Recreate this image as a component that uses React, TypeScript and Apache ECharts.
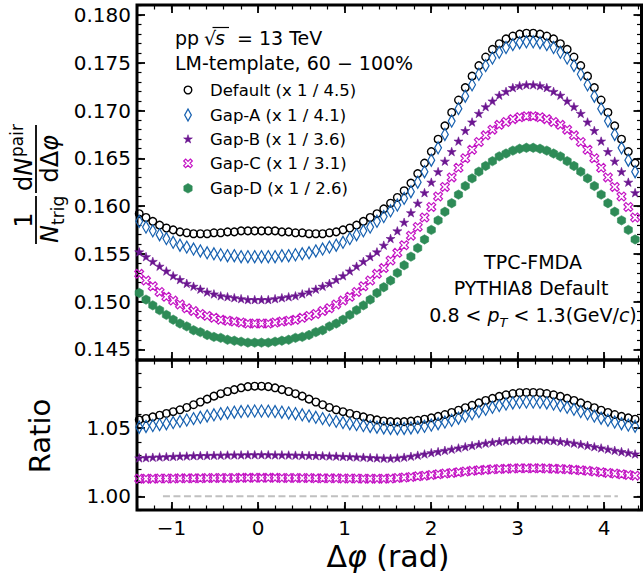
import React, { useEffect, useRef } from 'react';
import * as echarts from 'echarts';

// ---------- data ----------
// 80 bins over [-pi/2, 3pi/2); bin centres
const phiBins: number[] = Array.from({ length: 80 }, (_, i) => ((i - 19.5) * Math.PI) / 40);

const seriesNames = [
  'Default (x 1 / 4.5)',
  'Gap-A (x 1 / 4.1)',
  'Gap-B (x 1 / 3.6)',
  'Gap-C (x 1 / 3.1)',
  'Gap-D (x 1 / 2.6)',
];

const defaultVals = [
  0.1603,0.1597,0.1592,0.1588,0.1584,0.1580,0.1577,0.1575,0.1573,0.1572,0.1571,0.1571,0.1571,0.1572,0.1572,0.1573,0.1573,0.1574,0.1574,0.1574,
  0.1574,0.1574,0.1574,0.1573,0.1573,0.1572,0.1572,0.1571,0.1571,0.1571,0.1572,0.1573,0.1575,0.1577,0.1580,0.1584,0.1588,0.1592,0.1597,0.1603,
  0.1609,0.1616,0.1624,0.1634,0.1645,0.1657,0.1670,0.1684,0.1698,0.1711,0.1724,0.1736,0.1747,0.1756,0.1764,0.1770,0.1775,0.1778,0.1780,0.1781,
  0.1781,0.1780,0.1778,0.1775,0.1770,0.1764,0.1756,0.1747,0.1736,0.1724,0.1711,0.1698,0.1684,0.1670,0.1657,0.1645,0.1634,0.1624,0.1616,0.1609,
];
const gapAVals = [
  0.1595,0.1589,0.1584,0.1578,0.1574,0.1570,0.1566,0.1562,0.1559,0.1557,0.1555,0.1553,0.1551,0.1550,0.1549,0.1548,0.1548,0.1547,0.1547,0.1547,
  0.1547,0.1547,0.1547,0.1548,0.1548,0.1549,0.1550,0.1551,0.1553,0.1555,0.1557,0.1559,0.1562,0.1566,0.1570,0.1574,0.1578,0.1584,0.1589,0.1595,
  0.1601,0.1608,0.1615,0.1625,0.1636,0.1648,0.1661,0.1675,0.1689,0.1702,0.1715,0.1727,0.1738,0.1747,0.1755,0.1761,0.1766,0.1769,0.1771,0.1772,
  0.1772,0.1771,0.1769,0.1766,0.1761,0.1755,0.1747,0.1738,0.1727,0.1715,0.1702,0.1689,0.1675,0.1661,0.1648,0.1636,0.1625,0.1615,0.1608,0.1601,
];
const gapBVals = [
  0.1566,0.1559,0.1552,0.1547,0.1542,0.1537,0.1532,0.1527,0.1523,0.1519,0.1516,0.1513,0.1510,0.1508,0.1506,0.1505,0.1504,0.1503,0.1502,0.1502,
  0.1502,0.1502,0.1503,0.1504,0.1505,0.1506,0.1508,0.1510,0.1513,0.1516,0.1519,0.1523,0.1527,0.1532,0.1537,0.1542,0.1547,0.1552,0.1559,0.1566,
  0.1574,0.1583,0.1593,0.1603,0.1614,0.1625,0.1636,0.1647,0.1657,0.1668,0.1679,0.1688,0.1697,0.1704,0.1710,0.1716,0.1720,0.1724,0.1726,0.1727,
  0.1727,0.1726,0.1724,0.1720,0.1716,0.1710,0.1704,0.1697,0.1688,0.1679,0.1668,0.1657,0.1647,0.1636,0.1625,0.1614,0.1603,0.1593,0.1583,0.1574,
];
const gapCVals = [
  0.1543,0.1535,0.1529,0.1522,0.1516,0.1510,0.1505,0.1501,0.1497,0.1493,0.1490,0.1487,0.1485,0.1483,0.1481,0.1480,0.1479,0.1478,0.1477,0.1477,
  0.1477,0.1477,0.1478,0.1479,0.1480,0.1481,0.1483,0.1485,0.1487,0.1490,0.1493,0.1497,0.1501,0.1505,0.1510,0.1516,0.1522,0.1529,0.1535,0.1543,
  0.1551,0.1559,0.1569,0.1578,0.1588,0.1599,0.1610,0.1620,0.1630,0.1640,0.1650,0.1659,0.1667,0.1674,0.1680,0.1685,0.1688,0.1691,0.1693,0.1694,
  0.1694,0.1693,0.1691,0.1688,0.1685,0.1680,0.1674,0.1667,0.1659,0.1650,0.1640,0.1630,0.1620,0.1610,0.1599,0.1588,0.1578,0.1569,0.1559,0.1551,
];
const gapDVals = [
  0.1522,0.1515,0.1509,0.1502,0.1496,0.1491,0.1486,0.1481,0.1477,0.1474,0.1470,0.1468,0.1465,0.1463,0.1462,0.1460,0.1459,0.1458,0.1457,0.1457,
  0.1457,0.1457,0.1458,0.1459,0.1460,0.1462,0.1463,0.1465,0.1468,0.1470,0.1474,0.1477,0.1481,0.1486,0.1491,0.1496,0.1502,0.1509,0.1515,0.1522,
  0.1530,0.1538,0.1547,0.1556,0.1565,0.1575,0.1585,0.1594,0.1603,0.1612,0.1621,0.1629,0.1636,0.1642,0.1647,0.1652,0.1655,0.1658,0.1660,0.1661,
  0.1661,0.1660,0.1658,0.1655,0.1652,0.1647,0.1642,0.1636,0.1629,0.1621,0.1612,0.1603,0.1594,0.1585,0.1575,0.1565,0.1556,0.1547,0.1538,0.1530,
];

const ratioDefault = [
  1.0548,1.0553,1.0561,1.0571,1.0583,1.0595,1.0608,1.0621,1.0635,1.0652,1.0672,1.0692,1.0713,1.0735,1.0753,1.0769,1.0783,1.0796,1.0805,1.0808,
  1.0808,1.0805,1.0796,1.0783,1.0769,1.0753,1.0735,1.0713,1.0692,1.0672,1.0652,1.0635,1.0621,1.0608,1.0595,1.0583,1.0571,1.0561,1.0553,1.0548,
  1.0546,1.0548,1.0552,1.0558,1.0566,1.0576,1.0587,1.0600,1.0615,1.0632,1.0650,1.0668,1.0686,1.0703,1.0719,1.0733,1.0745,1.0754,1.0760,1.0762,
  1.0762,1.0760,1.0754,1.0745,1.0733,1.0719,1.0703,1.0686,1.0668,1.0650,1.0632,1.0615,1.0600,1.0587,1.0576,1.0566,1.0558,1.0552,1.0548,1.0546,
];
const ratioGapA = [
  1.0498,1.0502,1.0507,1.0513,1.0519,1.0526,1.0533,1.0541,1.0550,1.0560,1.0570,1.0580,1.0590,1.0598,1.0606,1.0612,1.0617,1.0622,1.0625,1.0626,
  1.0626,1.0625,1.0622,1.0617,1.0612,1.0606,1.0598,1.0590,1.0580,1.0570,1.0560,1.0550,1.0541,1.0533,1.0526,1.0519,1.0513,1.0507,1.0502,1.0498,
  1.0496,1.0498,1.0502,1.0507,1.0514,1.0523,1.0533,1.0545,1.0558,1.0573,1.0589,1.0605,1.0622,1.0638,1.0653,1.0666,1.0677,1.0685,1.0690,1.0692,
  1.0692,1.0690,1.0685,1.0677,1.0666,1.0653,1.0638,1.0622,1.0605,1.0589,1.0573,1.0558,1.0545,1.0533,1.0523,1.0514,1.0507,1.0502,1.0498,1.0496,
];
const ratioGapB = [
  1.0279,1.0280,1.0282,1.0284,1.0287,1.0289,1.0291,1.0293,1.0295,1.0296,1.0298,1.0299,1.0300,1.0301,1.0302,1.0303,1.0304,1.0304,1.0305,1.0305,
  1.0305,1.0305,1.0304,1.0304,1.0303,1.0302,1.0301,1.0300,1.0299,1.0298,1.0296,1.0295,1.0293,1.0291,1.0289,1.0287,1.0284,1.0282,1.0280,1.0279,
  1.0282,1.0287,1.0294,1.0302,1.0311,1.0320,1.0328,1.0337,1.0346,1.0355,1.0364,1.0373,1.0382,1.0390,1.0397,1.0403,1.0408,1.0412,1.0414,1.0415,
  1.0415,1.0414,1.0412,1.0408,1.0403,1.0397,1.0390,1.0382,1.0373,1.0364,1.0355,1.0346,1.0337,1.0328,1.0320,1.0311,1.0302,1.0294,1.0287,1.0282,
];
const ratioGapC = [
  1.0131,1.0130,1.0130,1.0130,1.0130,1.0131,1.0131,1.0131,1.0132,1.0132,1.0133,1.0133,1.0134,1.0134,1.0135,1.0135,1.0135,1.0136,1.0136,1.0136,
  1.0136,1.0136,1.0136,1.0135,1.0135,1.0135,1.0134,1.0134,1.0133,1.0133,1.0132,1.0132,1.0131,1.0131,1.0131,1.0130,1.0130,1.0130,1.0130,1.0131,
  1.0135,1.0138,1.0142,1.0147,1.0152,1.0157,1.0162,1.0167,1.0172,1.0177,1.0182,1.0187,1.0191,1.0195,1.0198,1.0201,1.0203,1.0205,1.0206,1.0206,
  1.0206,1.0206,1.0205,1.0203,1.0201,1.0198,1.0195,1.0191,1.0187,1.0182,1.0177,1.0172,1.0167,1.0162,1.0157,1.0152,1.0147,1.0142,1.0138,1.0135,
];

const xMajorTicks = [-1, 0, 1, 2, 3, 4];
const xMinorTicks = [-1.4,-1.2,-1.0,-0.8,-0.6,-0.4,-0.2,0,0.2,0.4,0.6,0.8,1.0,1.2,1.4,1.6,1.8,2.0,2.2,2.4,2.6,2.8,3.0,3.2,3.4,3.6,3.8,4.0,4.2,4.4];
const yTopMajor = [0.145,0.150,0.155,0.160,0.165,0.170,0.175,0.180];
const yTopMinor = [0.144,0.145,0.146,0.147,0.148,0.149,0.150,0.151,0.152,0.153,0.154,0.155,0.156,0.157,0.158,0.159,0.160,0.161,0.162,0.163,0.164,0.165,0.166,0.167,0.168,0.169,0.170,0.171,0.172,0.173,0.174,0.175,0.176,0.177,0.178,0.179,0.180,0.181];
const yRatioLabels = [1.00, 1.05];
const yRatioMajor = [1.00, 1.05, 1.10];
const yRatioMinor = [0.99,1.00,1.01,1.02,1.03,1.04,1.05,1.06,1.07,1.08,1.09,1.10];
const unityLineX = [-1.1, 4.16];
const unityLineY = 1.0;

// ---------- styling ----------
const FONT = 'DejaVu Sans';
const X_MIN = -1.40;
const X_MAX = 4.433;
const Y_TOP_MIN = 0.14388;
const Y_TOP_MAX = 0.18105;
const Y_R_MIN = 0.99;
const Y_R_MAX = 1.10;
const COLORS = ['#000000', '#1761b0', '#6b1590', '#c414c4', '#2e8b57'];

const starPts: number[][] = Array.from({ length: 10 }, (_, k) => {
  const a = -Math.PI / 2 + (k * Math.PI) / 5;
  const r = k % 2 === 0 ? 10 : 3.82;
  return [r * Math.cos(a), r * Math.sin(a)];
});
const hexPts: number[][] = Array.from({ length: 6 }, (_, k) => {
  const a = -Math.PI / 2 + (k * Math.PI) / 3;
  return [10 * Math.cos(a), 10 * Math.sin(a)];
});
const xPts: number[][] = [
  [4.95,-9.19],[9.19,-4.95],[4.24,0],[9.19,4.95],[4.95,9.19],[0,4.24],
  [-4.95,9.19],[-9.19,4.95],[-4.24,0],[-9.19,-4.95],[-4.95,-9.19],[0,-4.24],
];
const diaPts: number[][] = [[0,-10],[5.5,0],[0,10],[-5.5,0]];
const toPath = (pts: number[][]) =>
  'path://' + pts.map((p, i) => (i ? 'L' : 'M') + p[0].toFixed(2) + ',' + p[1].toFixed(2)).join(' ') + ' Z';

const markers = [
  { symbol: 'circle', size: [7.6, 7.6], fill: 'rgba(0,0,0,0)', stroke: COLORS[0], bw: 1.4 },
  { symbol: 'diamond', size: [6.8, 12], fill: 'rgba(0,0,0,0)', stroke: COLORS[1], bw: 1.3 },
  { symbol: toPath(starPts), size: [9, 8.6], fill: COLORS[2], stroke: COLORS[2], bw: 0.6 },
  { symbol: toPath(xPts), size: [8.8, 8.8], fill: 'rgba(0,0,0,0)', stroke: COLORS[3], bw: 1.2 },
  { symbol: toPath(hexPts), size: [8.2, 9.4], fill: COLORS[4], stroke: COLORS[4], bw: 0.6 },
];

const fmtX = (v: number) => (v < 0 ? '\u2212' + Math.abs(v) : String(v));

function xAxis(gridIndex: number, position: string, ticks: number[], len: number, width: number, labels: boolean) {
  return {
    type: 'value', gridIndex, position, min: X_MIN, max: X_MAX,
    axisLine: { show: false, onZero: false },
    splitLine: { show: false },
    axisTick: { show: true, inside: true, length: len, lineStyle: { color: '#000', width }, customValues: ticks },
    axisLabel: labels
      ? { show: true, customValues: ticks, formatter: fmtX, fontSize: 20, lineHeight: 22, color: '#000', fontFamily: FONT, margin: 7 }
      : { show: false },
  };
}
function yAxis(gridIndex: number, position: string, min: number, max: number, ticks: number[], len: number, width: number, labels: number[] | null, digits: number) {
  return {
    type: 'value', gridIndex, position, min, max,
    axisLine: { show: false, onZero: false },
    splitLine: { show: false },
    axisTick: { show: true, inside: true, length: len, lineStyle: { color: '#000', width }, customValues: ticks },
    axisLabel: labels
      ? { show: true, customValues: labels, formatter: (v: number) => v.toFixed(digits), fontSize: 20, color: '#000', fontFamily: FONT, margin: 6 }
      : { show: false },
  };
}

function buildOption() {
  const topData = [defaultVals, gapAVals, gapBVals, gapCVals, gapDVals];
  const ratioData = [ratioDefault, ratioGapA, ratioGapB, ratioGapC];

  const series: any[] = [];
  topData.forEach((vals, s) => {
    const m = markers[s];
    series.push({
      type: 'scatter', name: seriesNames[s], xAxisIndex: 0, yAxisIndex: 0, clip: true,
      symbol: m.symbol, symbolSize: m.size,
      itemStyle: { color: m.fill, borderColor: m.stroke, borderWidth: m.bw, opacity: 1 },
      data: phiBins.map((x, i) => [x, vals[i]]),
      z: 2 + s,
    });
  });
  series.push({
    type: 'line', xAxisIndex: 4, yAxisIndex: 4, symbol: 'none', silent: true,
    lineStyle: { color: '#c0c0c0', width: 2, type: [7, 3.5] },
    data: unityLineX.map((x) => [x, unityLineY]),
    z: 1,
  });
  ratioData.forEach((vals, s) => {
    const m = markers[s];
    series.push({
      type: 'scatter', name: seriesNames[s] + ' ratio', xAxisIndex: 4, yAxisIndex: 4, clip: true,
      symbol: m.symbol, symbolSize: m.size,
      itemStyle: { color: m.fill, borderColor: m.stroke, borderWidth: m.bw, opacity: 1 },
      data: phiBins.map((x, i) => [x, vals[i]]),
      z: 2 + s,
    });
  });

  // legend + annotation graphics
  const legendY = [90, 115, 139.3, 163.3, 188.3];
  const legendMarkX = 188;
  const scalePts = (pts: number[][], cx: number, cy: number, s: number) => pts.map((p) => [cx + p[0] * s, cy + p[1] * s]);
  const txt = (text: string, x: number, y: number, size: number, extra: any = {}) => ({
    type: 'text', x, y, silent: true,
    style: { text, fontSize: size, fontFamily: FONT, fill: '#000', align: 'left', verticalAlign: 'middle', ...extra },
  });

  const g: any[] = [];
  // legend markers
  g.push({ type: 'circle', shape: { cx: legendMarkX, cy: legendY[0], r: 3.8 }, style: { fill: 'none', stroke: COLORS[0], lineWidth: 1.4 } });
  g.push({ type: 'polygon', shape: { points: scalePts(diaPts, legendMarkX, legendY[1], 0.6) }, style: { fill: 'none', stroke: COLORS[1], lineWidth: 1.3 } });
  g.push({ type: 'polygon', shape: { points: scalePts(starPts, legendMarkX, legendY[2], 0.46) }, style: { fill: COLORS[2], stroke: COLORS[2], lineWidth: 0.6 } });
  g.push({ type: 'polygon', shape: { points: scalePts(xPts, legendMarkX, legendY[3], 0.47) }, style: { fill: 'none', stroke: COLORS[3], lineWidth: 1.2 } });
  g.push({ type: 'polygon', shape: { points: scalePts(hexPts, legendMarkX, legendY[4], 0.48) }, style: { fill: COLORS[4], stroke: COLORS[4], lineWidth: 0.6 } });
  seriesNames.forEach((n, i) => g.push(txt(n, 210, legendY[i], 16.5)));

  // header
  g.push(txt('pp', 175, 38.3, 19));
  g.push(txt('\u221A', 204, 38.3, 19));
  g.push(txt('s', 215, 38.3, 19, { fontStyle: 'italic' }));
  g.push({ type: 'line', shape: { x1: 212.5, y1: 27.5, x2: 229, y2: 27.5 }, style: { stroke: '#000', lineWidth: 1.2 } });
  g.push(txt('= 13 TeV', 237, 38.3, 19));
  g.push(txt('LM-template, 60 \u2212 100%', 175, 63.3, 19));

  // right annotation
  g.push(txt('TPC-FMDA', 533, 261.7, 19, { align: 'center' }));
  g.push(txt('PYTHIA8 Default', 531, 288.3, 19, { align: 'center' }));
  g.push({
    type: 'text', x: 533, y: 315, silent: true,
    style: {
      text: '{r|0.8 < }{i|p}{s|T}{r| < 1.3(GeV/}{i|c}{r|)}',
      align: 'center', verticalAlign: 'middle', fontFamily: FONT, fontSize: 19, fill: '#000',
      rich: {
        r: { fontSize: 19, fontFamily: FONT, lineHeight: 27, verticalAlign: 'middle', fill: '#000' },
        i: { fontSize: 19, fontFamily: FONT, fontStyle: 'italic', lineHeight: 27, verticalAlign: 'middle', fill: '#000' },
        s: { fontSize: 13, fontFamily: FONT, fontStyle: 'italic', verticalAlign: 'bottom', fill: '#000' },
      },
    },
  });

  // y-axis title of top panel (rotated fraction)
  const F = 24;
  const S = 17;
  const fr = (text: string, x: number, y: number, size: number, italic = false, align = 'left') => ({
    type: 'text', x, y, silent: true,
    style: { text, fontSize: size, fontFamily: FONT, fill: '#000', align, verticalAlign: 'middle', fontStyle: italic ? 'italic' : 'normal' },
  });
  g.push({
    type: 'group', x: 37, y: 185, rotation: Math.PI / 2, silent: true,
    children: [
      fr('1', -35, -13.3, F, false, 'center'),
      { type: 'line', shape: { x1: -59, y1: -1, x2: -11, y2: -1 }, style: { stroke: '#000', lineWidth: 1.8 } },
      fr('N', -58, 13.2, F, true),
      fr('trig', -40, 20.6, S),
      fr('d', -6, -13.3, F),
      fr('N', 9.2, -13.3, F, true),
      fr('pair', 28, -20.5, S),
      { type: 'line', shape: { x1: -8, y1: -1, x2: 60, y2: -1 }, style: { stroke: '#000', lineWidth: 1.8 } },
      fr('d\u0394', 2.5, 13.2, F),
      fr('\u03C6', 34, 13.2, F, true),
    ],
  });

  // Ratio label
  g.push({
    type: 'text', x: 40, y: 436, rotation: Math.PI / 2, silent: true,
    style: { text: 'Ratio', fontSize: 29, fontFamily: FONT, fill: '#000', align: 'center', verticalAlign: 'middle' },
  });
  // x-axis title
  g.push({
    type: 'text', x: 388, y: 556, silent: true,
    style: {
      text: '{a|\u0394}{b|\u03C6}{a| (rad)}', align: 'center', verticalAlign: 'middle', fontFamily: FONT, fontSize: 30, fill: '#000',
      rich: {
        a: { fontSize: 30, fontFamily: FONT, fill: '#000', lineHeight: 28 },
        b: { fontSize: 30, fontFamily: FONT, fontStyle: 'italic', fill: '#000', lineHeight: 28 },
      },
    },
  });

  return {
    animation: false,
    backgroundColor: '#ffffff',
    textStyle: { fontFamily: FONT },
    grid: [
      { left: 137, top: 5, width: 504.5, height: 355, show: true, borderColor: '#000', borderWidth: 3, backgroundColor: 'rgba(0,0,0,0)' },
      { left: 137, top: 360, width: 504.5, height: 150, show: true, borderColor: '#000', borderWidth: 3, backgroundColor: 'rgba(0,0,0,0)' },
    ],
    xAxis: [
      xAxis(0, 'bottom', xMajorTicks, 8, 1.8, false),
      xAxis(0, 'bottom', xMinorTicks, 4.5, 1.2, false),
      xAxis(0, 'top', xMajorTicks, 8, 1.8, false),
      xAxis(0, 'top', xMinorTicks, 4.5, 1.2, false),
      xAxis(1, 'bottom', xMajorTicks, 8, 1.8, true),
      xAxis(1, 'bottom', xMinorTicks, 4.5, 1.2, false),
      xAxis(1, 'top', xMajorTicks, 8, 1.8, false),
      xAxis(1, 'top', xMinorTicks, 4.5, 1.2, false),
    ],
    yAxis: [
      yAxis(0, 'left', Y_TOP_MIN, Y_TOP_MAX, yTopMajor, 8, 1.8, yTopMajor, 3),
      yAxis(0, 'left', Y_TOP_MIN, Y_TOP_MAX, yTopMinor, 4.5, 1.2, null, 3),
      yAxis(0, 'right', Y_TOP_MIN, Y_TOP_MAX, yTopMajor, 8, 1.8, null, 3),
      yAxis(0, 'right', Y_TOP_MIN, Y_TOP_MAX, yTopMinor, 4.5, 1.2, null, 3),
      yAxis(1, 'left', Y_R_MIN, Y_R_MAX, yRatioMajor, 8, 1.8, yRatioLabels, 2),
      yAxis(1, 'left', Y_R_MIN, Y_R_MAX, yRatioMinor, 4.5, 1.2, null, 2),
      yAxis(1, 'right', Y_R_MIN, Y_R_MAX, yRatioMajor, 8, 1.8, null, 2),
      yAxis(1, 'right', Y_R_MIN, Y_R_MAX, yRatioMinor, 4.5, 1.2, null, 2),
    ],
    series,
    graphic: g,
  };
}

export default function App() {
  const ref = useRef<HTMLDivElement>(null);
  useEffect(() => {
    if (!ref.current) return;
    const chart = echarts.init(ref.current, null, { renderer: 'svg' });
    chart.setOption(buildOption() as any);
    return () => chart.dispose();
  }, []);
  return (
    <div
      ref={ref}
      style={{ position: 'absolute', left: 0, top: 0, width: 643, height: 579, background: '#fff' }}
    />
  );
}
